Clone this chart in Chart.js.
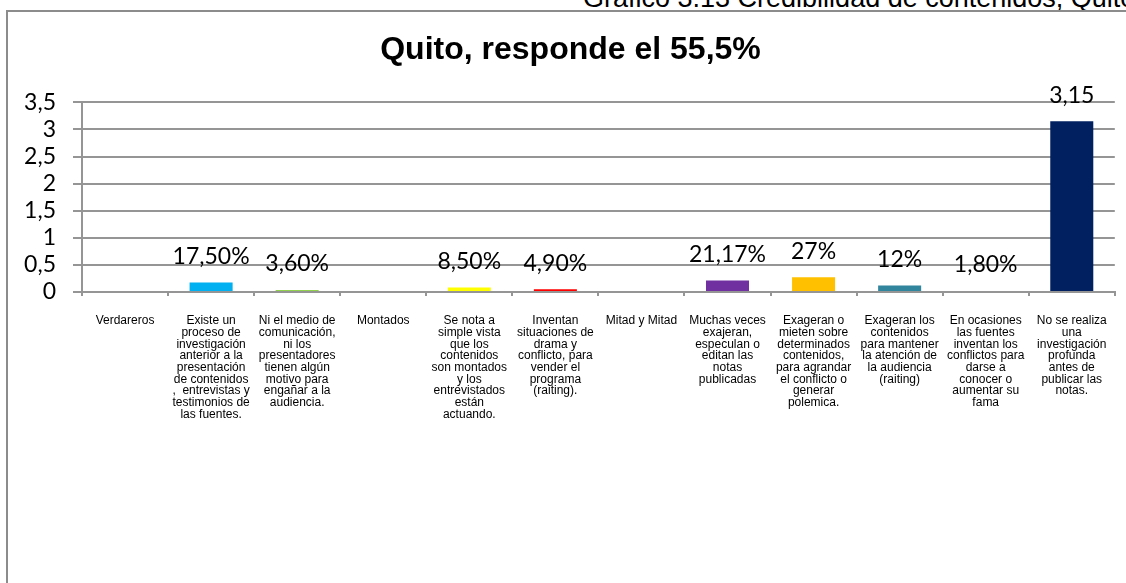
<!DOCTYPE html>
<html lang="es">
<head>
<meta charset="utf-8">
<title>Quito, responde el 55,5%</title>
<script src="https://cdn.jsdelivr.net/npm/chart.js"></script>
<style>
    html, body { margin: 0; padding: 0; background: #fff; overflow: hidden; }
    #caption {
        position: absolute; left: 583px; top: -15px;
        font: 27px/27px "Liberation Sans", Arial, sans-serif;
        color: #000; white-space: nowrap;
    }
    #frame {
        position: absolute; left: 6px; top: 10px;
        width: 1200px; height: 700px;
        border: 2px solid #8c8c8c;
    }
    #chart { position: absolute; left: 0; top: 0; }
</style>
</head>
<body>
<div id="caption">Gráfico 3.13 Credibilidad de contenidos, Quito</div>
<div id="frame"></div>
<canvas id="chart" width="1126" height="583"></canvas>
<script>
// Categories (axis labels, already broken into lines like the original)
const categories = [
    ["Verdareros"],
    ["Existe un", "proceso de", "investigación", "anterior a la", "presentación", "de contenidos", ",  entrevistas y", "testimonios de", "las fuentes."],
    ["Ni el medio de", "comunicación,", "ni los", "presentadores", "tienen algún", "motivo para", "engañar a la", "audiencia."],
    ["Montados"],
    ["Se nota a", "simple vista", "que los", "contenidos", "son montados", "y los", "entrevistados", "están", "actuando."],
    ["Inventan", "situaciones de", "drama y", "conflicto, para", "vender el", "programa", "(raiting)."],
    ["Mitad y Mitad"],
    ["Muchas veces", "exajeran,", "especulan o", "editan las", "notas", "publicadas"],
    ["Exageran o", "mieten sobre", "determinados", "contenidos,", "para agrandar", "el conflicto o", "generar", "polemica."],
    ["Exageran los", "contenidos", "para mantener", "la atención de", "la audiencia", "(raiting)"],
    ["En ocasiones", "las fuentes", "inventan los", "conflictos para", "darse a", "conocer o", "aumentar su", "fama"],
    ["No se realiza", "una", "investigación", "profunda", "antes de", "publicar las", "notas."]
];

// Series values
const values = [0, 0.175, 0.036, 0, 0.085, 0.049, 0, 0.2117, 0.27, 0.12, 0.018, 3.15];

// Data labels shown above the bars
const valueLabels = ["", "17,50%", "3,60%", "", "8,50%", "4,90%", "", "21,17%", "27%", "12%", "1,80%", "3,15"];

// Bar colours
const barColors = ["#00b0f0", "#00b0f0", "#92d050", "#92d050", "#ffff00", "#ff0000",
                   "#7030a0", "#7030a0", "#ffc000", "#31859c", "#7f7f7f", "#002060"];

// Y axis range and step
const yMin = 0;
const yMax = 3.5;
const yStep = 0.5;

const gridColor = "#959595";

// Draw the value labels above each bar
const valueLabelPlugin = {
    id: "valueLabels",
    afterDatasetsDraw(chart) {
        const ctx = chart.ctx;
        const meta = chart.getDatasetMeta(0);
        ctx.save();
        ctx.font = "23px Lato";
        ctx.fillStyle = "#000";
        ctx.textAlign = "center";
        ctx.textBaseline = "middle";
        meta.data.forEach((bar, i) => {
            if (!valueLabels[i]) return;
            ctx.fillText(valueLabels[i], bar.x, bar.y - 26);
        });
        ctx.restore();
    }
};

new Chart(document.getElementById("chart").getContext("2d"), {
    type: "bar",
    data: {
        labels: categories,
        datasets: [{
            data: values,
            backgroundColor: barColors,
            borderWidth: 0,
            barPercentage: 0.5,
            categoryPercentage: 1.0
        }]
    },
    options: {
        responsive: false,
        animation: false,
        layout: { padding: { left: 20, right: 5, top: 0, bottom: 0 } },
        plugins: {
            legend: { display: false },
            tooltip: { enabled: false },
            title: {
                display: true,
                text: "Quito, responde el 55,5%",
                color: "#000",
                font: { family: "Liberation Sans", size: 32, weight: "bold", lineHeight: 1.2 },
                padding: { top: 31, bottom: 33 }
            }
        },
        scales: {
            x: {
                afterFit: (scale) => { scale.height = 291; },
                grid: { drawOnChartArea: false, offset: true, tickLength: 4, color: gridColor, lineWidth: 2 },
                border: { color: gridColor, width: 2 },
                ticks: {
                    autoSkip: false,
                    maxRotation: 0,
                    minRotation: 0,
                    padding: 19,
                    color: "#000",
                    font: { family: "Liberation Sans", size: 12, lineHeight: 0.975 }
                }
            },
            y: {
                min: yMin,
                max: yMax,
                afterFit: (scale) => { scale.width = 62; },
                grid: { color: gridColor, lineWidth: 2, tickLength: 9 },
                border: { color: gridColor, width: 2 },
                ticks: {
                    stepSize: yStep,
                    autoSkip: false,
                    padding: 17,
                    color: "#000",
                    font: { family: "Lato", size: 23 },
                    callback: (v) => String(v).replace(".", ",")
                }
            }
        }
    },
    plugins: [valueLabelPlugin]
});
</script>
</body>
</html>
